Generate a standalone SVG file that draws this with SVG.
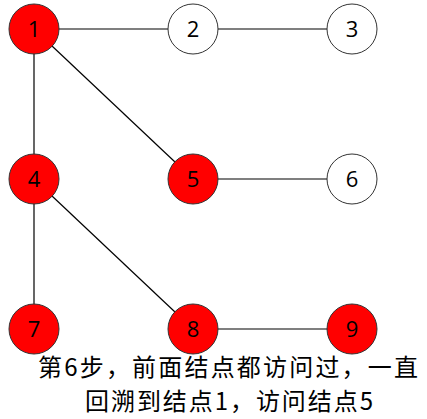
<svg xmlns="http://www.w3.org/2000/svg" width="427" height="419" viewBox="0 0 427 419">
<style>
.e{stroke:#000;stroke-width:1.2;fill:none}
.n circle{stroke:#333;stroke-width:1}
.v circle{fill:#ff0000}
.u circle{fill:#fff}
.n text{font-family:"Open Sans","Liberation Sans",sans-serif;font-size:22px;fill:#000;text-anchor:middle}
.cap{font-family:"Noto Sans CJK SC",sans-serif;font-size:24px;fill:#000}
</style>
<rect width="427" height="419" fill="#fff"/>
<g id="edges">
<line class="e" x1="34" y1="29" x2="193" y2="29"/>
<line class="e" x1="193" y1="29" x2="352" y2="29"/>
<line class="e" x1="34" y1="29" x2="34" y2="179"/>
<line class="e" x1="34" y1="29" x2="193" y2="179"/>
<line class="e" x1="193" y1="179" x2="352" y2="179"/>
<line class="e" x1="34" y1="179" x2="34" y2="329"/>
<line class="e" x1="34" y1="179" x2="193" y2="329"/>
<line class="e" x1="193" y1="329" x2="352" y2="329"/>
</g>
<g id="node1" class="n v"><circle cx="34" cy="29" r="25"/><text x="34" y="37">1</text></g>
<g id="node2" class="n u"><circle cx="193" cy="29" r="25"/><text x="193" y="37">2</text></g>
<g id="node3" class="n u"><circle cx="352" cy="29" r="25"/><text x="352" y="37">3</text></g>
<g id="node4" class="n v"><circle cx="34" cy="179" r="25"/><text x="34" y="187">4</text></g>
<g id="node5" class="n v"><circle cx="193" cy="179" r="25"/><text x="193" y="187">5</text></g>
<g id="node6" class="n u"><circle cx="352" cy="179" r="25"/><text x="352" y="187">6</text></g>
<g id="node7" class="n v"><circle cx="34" cy="329" r="25"/><text x="34" y="337">7</text></g>
<g id="node8" class="n v"><circle cx="193" cy="329" r="25"/><text x="193" y="337">8</text></g>
<g id="node9" class="n v"><circle cx="352" cy="329" r="25"/><text x="352" y="337">9</text></g>
<g id="caption">
<text class="cap" x="38" y="376" textLength="380" lengthAdjust="spacing">第6步，前面结点都访问过，一直</text>
<text class="cap" x="85" y="410" textLength="288" lengthAdjust="spacing">回溯到结点1，访问结点5</text>
</g>
</svg>
